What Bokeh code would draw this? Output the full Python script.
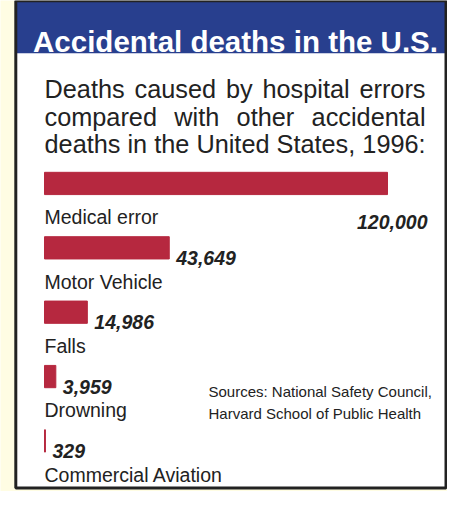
from bokeh.plotting import figure
from bokeh.models import Range1d, ColumnDataSource
from bokeh.core.properties import value
from bokeh.embed import file_html
from bokeh.resources import INLINE

# ---- data ----
categories = ["Medical error", "Motor Vehicle", "Falls", "Drowning", "Commercial Aviation"]
deaths = [120000, 43649, 14986, 3959, 329]
value_labels = ["120,000", "43,649", "14,986", "3,959", "329"]
title_text = "Accidental deaths in the U.S."
subtitle_line1 = ["Deaths", "caused", "by", "hospital", "errors"]
subtitle_line2 = ["compared", "with", "other", "accidental"]
subtitle_line3 = "deaths in the United States, 1996:"
source_lines = ["Sources: National Safety Council,",
                "Harvard School of Public Health"]

# ---- layout helpers (pixel positions of the reference) ----
W, H = 447, 491
BASE = 44                       # pixel of zero deaths
K = (387 - BASE) / 120000.0     # pixels per death
XS, XE = -BASE / K, (W - BASE) / K
S = 0.968                       # vertical squeeze to fit the window


def X(px):
    return XS + px / K


def Y(ry):
    return (ry - 1) * S


YELLOW = "#FFFDE3"
BLUE = "#283F8E"
RED = "#B6283F"
DARK = "#222222"
FONT = "Liberation Sans"

p = figure(width=W, height=H, x_range=Range1d(XS, XE), y_range=Range1d(H, 0),
           output_backend="svg", toolbar_location=None,
           x_axis_location=None, y_axis_location=None, min_border=0)
p.grid.visible = False
p.outline_line_color = None
p.background_fill_color = YELLOW
p.border_fill_color = YELLOW

LEFT, RIGHT = X(15.3), X(445.5)
p.quad(left=[LEFT], right=[RIGHT], top=[Y(1.3)], bottom=[Y(504.5)],
       fill_color="white", line_color=None)
p.quad(left=[LEFT], right=[RIGHT], top=[Y(1.3)], bottom=[Y(55.5)],
       fill_color=BLUE, line_color=None)
p.quad(left=[LEFT], right=[RIGHT], top=[Y(1.3)], bottom=[Y(504.5)],
       fill_color=None, line_color=DARK, line_width=3)

p.text(x=[X(235)], y=[Y(43)], text=[title_text], text_color="white",
       text_font=value(FONT), text_font_style="bold", text_font_size="29.5px",
       text_align="center", text_baseline="alphabetic")

# subtitle (justified block)
sub_style = dict(text_color=DARK, text_font=value(FONT), text_font_size="25.3px",
                 text_baseline="alphabetic")
l1x = [44, 134, 225.4, 261.9]
p.text(x=[X(v) for v in l1x], y=[Y(92)] * 4, text=subtitle_line1[:-1],
       text_align="left", **sub_style)
p.text(x=[X(425)], y=[Y(92)], text=subtitle_line1[-1:], text_align="right", **sub_style)
l2x = [44, 173.8, 236.1]
p.text(x=[X(v) for v in l2x], y=[Y(121)] * 3, text=subtitle_line2[:-1],
       text_align="left", **sub_style)
p.text(x=[X(425)], y=[Y(121)], text=subtitle_line2[-1:], text_align="right", **sub_style)
p.text(x=[X(44)], y=[Y(149.3)], text=[subtitle_line3], text_align="left", **sub_style)

# bars
n = len(categories)
bar_y = [Y(190 + i * 66.5) for i in range(n)]
src = ColumnDataSource(dict(y=bar_y, v=deaths, cat=categories, lab=value_labels,
                            caty=[b + 35 * S for b in bar_y]))
p.hbar(y="y", left=0, right="v", height=23 * S, source=src,
       fill_color=RED, line_color=RED, line_width=1)

p.text(x=0, y="caty", text="cat", source=src, text_color=DARK,
       text_font=value(FONT), text_font_size="19.5px",
       text_align="left", text_baseline="alphabetic")

# value labels: the first one sits under its bar, right-aligned
first = ColumnDataSource(dict(x=deaths[:1], y=[bar_y[0] + 40 * S], t=value_labels[:1]))
p.text(x="x", y="y", text="t", source=first, x_offset=40, text_color=DARK,
       text_font=value(FONT), text_font_style="bold italic", text_font_size="19.5px",
       text_align="right", text_baseline="alphabetic")
rest = ColumnDataSource(dict(x=deaths[1:], y=[b + 10.5 * S for b in bar_y[1:]], t=value_labels[1:]))
p.text(x="x", y="y", text="t", source=rest, x_offset=7, text_color=DARK,
       text_font=value(FONT), text_font_style="bold italic", text_font_size="19.5px",
       text_align="left", text_baseline="alphabetic")

p.text(x=[X(208)] * 2, y=[Y(405), Y(427.5)], text=source_lines, text_color=DARK,
       text_font=value(FONT), text_font_size="15px",
       text_align="left", text_baseline="alphabetic")

open("out.html", "w").write(file_html(p, INLINE))
